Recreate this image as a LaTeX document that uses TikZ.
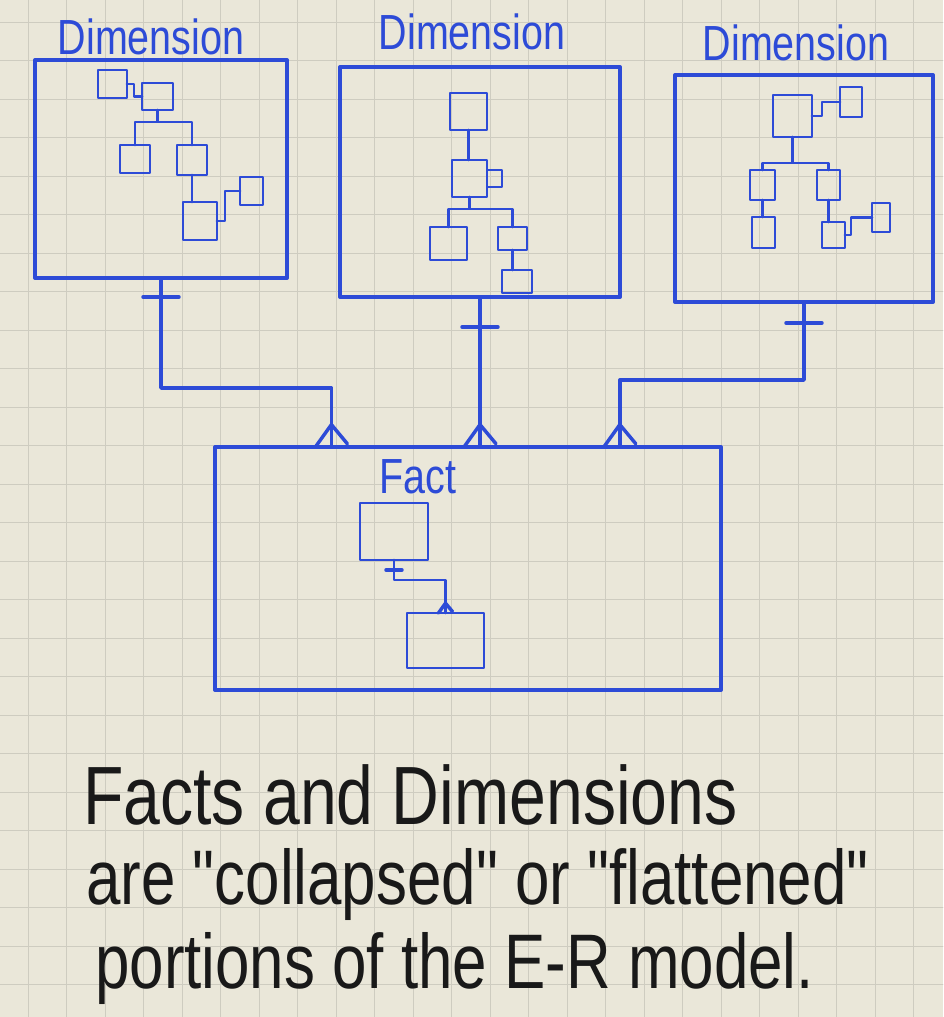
\documentclass[tikz,border=0pt]{standalone}
\usepackage{fontspec}
\usetikzlibrary{calc,positioning}
\newfontfamily\handfont[FakeStretch=0.8]{Liberation Sans}
\definecolor{marker}{RGB}{45,75,215}
\definecolor{ink}{RGB}{25,25,25}
\definecolor{paper}{RGB}{234,231,217}
\definecolor{gridc}{RGB}{206,204,192}

% ER end marks: one-tick across a connector, crow's foot where it meets a box
\newcommand{\onetick}[3]{\draw[erline] ($(#1)+(-#3,#2)$) -- ($(#1)+(#3,#2)$);}
\newcommand{\crowfoot}[2]{\draw[erline] ($(#1)+(0,-1.4*#2)$) -- ($(#1)+(-#2,0)$) ($(#1)+(0,-1.4*#2)$) -- ($(#1)+(#2,-0.2*#2)$);}

\begin{document}
\begin{tikzpicture}[x=0.75pt, y=-0.75pt, line cap=round, line join=round,
    panel/.style={draw=marker, line width=3pt, inner sep=0pt, outer sep=0pt},
    ebox/.style={draw=marker, line width=2.2pt, inner sep=0pt, outer sep=0pt},
    link/.style={draw=marker, line width=2.2pt},
    erline/.style={draw=marker, line width=2.6pt},
    dimtitle/.style={text=marker, font=\handfont\fontsize{37}{40}\selectfont, inner sep=0pt, anchor=base},
    remark/.style={text=ink, font=\handfont\fontsize{58}{64}\selectfont, inner sep=0pt, anchor=base west}]
  \useasboundingbox (0,0) rectangle (943,1017);
  \fill[paper] (0,0) rectangle (943,1017);
  \foreach \gx in {28,66.5,...,943} \draw[gridc, line width=0.6pt] (\gx,0) -- (\gx,1017);
  \foreach \gy in {22,60.5,...,1017} \draw[gridc, line width=0.6pt] (0,\gy) -- (943,\gy);

  % the four tables
  \node[panel, minimum width=189pt, minimum height=163.5pt] (dimA) at (161,169) {};
  \node[panel, minimum width=210pt, minimum height=172.5pt] (dimB) at (480,182) {};
  \node[panel, minimum width=193.5pt, minimum height=170.25pt] (dimC) at (804,188.5) {};
  \node[panel, minimum width=379.5pt, minimum height=182.25pt] (fact) at (468,568.5) {};

  \node[dimtitle] (dimAname) at (151,54) {Dimension};
  \node[dimtitle] (dimBname) at (472,49) {Dimension};
  \node[dimtitle] (dimCname) at (796,60) {Dimension};
  \node[dimtitle] (factname) at (418,493) {Fact};

  % left dimension
  \node[ebox, minimum width=21.75pt, minimum height=21pt] (a1) at (112.5,84) {};
  \node[ebox, minimum width=23.25pt, minimum height=20.25pt] (a2) at (157.5,96.5) {};
  \node[ebox, minimum width=22.5pt, minimum height=21pt] (a3) at (135,159) {};
  \node[ebox, minimum width=22.5pt, minimum height=22.5pt] (a4) at (192,160) {};
  \node[ebox, minimum width=25.5pt, minimum height=28.5pt] (a5) at (200,221) {};
  \node[ebox, minimum width=17.25pt, minimum height=21pt] (a6) at (251.5,191) {};
  \draw[link] (a1.east) -- ++(7,0) |- (a2.west);
  \draw[link] (a2.south) -- ++(0,12) coordinate (aFork) -| (a3.north);
  \draw[link] (aFork) -| (a4.north);
  \draw[link] (a4.south) -- (a4.south |- a5.north);
  \draw[link] (a5.east) -- ++(8,0) |- (a6.west);

  % middle dimension
  \node[ebox, minimum width=27.75pt, minimum height=27.75pt] (b1) at (468.5,111.5) {};
  \node[ebox, minimum width=26.25pt, minimum height=27.75pt] (b2) at (469.5,178.5) {};
  \node[ebox, minimum width=11.25pt, minimum height=12.75pt, right=0pt of b2] (b2x) {};
  \node[ebox, minimum width=27.75pt, minimum height=24.75pt] (b3) at (448.5,243.5) {};
  \node[ebox, minimum width=21.75pt, minimum height=17.25pt] (b4) at (512.5,238.5) {};
  \node[ebox, minimum width=22.5pt, minimum height=17.25pt] (b5) at (517,281.5) {};
  \draw[link] (b1.south) -- (b1.south |- b2.north);
  \draw[link] (b2.south) -- ++(0,12) coordinate (bFork) -| (b3.north);
  \draw[link] (bFork) -| (b4.north);
  \draw[link] (b4.south) -- (b4.south |- b5.north);

  % right dimension
  \node[ebox, minimum width=29.25pt, minimum height=31.5pt] (c1) at (792.5,116) {};
  \node[ebox, minimum width=16.5pt, minimum height=22.5pt] (c2) at (851,102) {};
  \node[ebox, minimum width=18.75pt, minimum height=22.5pt] (c3) at (762.5,185) {};
  \node[ebox, minimum width=17.25pt, minimum height=22.5pt] (c4) at (828.5,185) {};
  \node[ebox, minimum width=17.25pt, minimum height=23.25pt] (c5) at (763.5,232.5) {};
  \node[ebox, minimum width=17.25pt, minimum height=19.5pt] (c6) at (833.5,235) {};
  \node[ebox, minimum width=13.5pt, minimum height=21.75pt] (c7) at (881,217.5) {};
  \draw[link] (c1.east) -- ++(10,0) |- (c2.west);
  \draw[link] (c1.south) -- ++(0,26) coordinate (cFork) -| (c3.north);
  \draw[link] (cFork) -| (c4.north);
  \draw[link] (c3.south) -- (c3.south |- c5.north);
  \draw[link] (c4.south) -- (c4.south |- c6.north);
  \draw[link] (c6.east) -- ++(6,0) |- (c7.west);

  % fact
  \node[ebox, minimum width=51pt, minimum height=42.75pt] (f1) at (394,531.5) {};
  \node[ebox, minimum width=57.75pt, minimum height=41.25pt] (f2) at (445.5,640.5) {};
  \draw[link] (f1.south) -- ++(0,20) -| (f2.north);
  \onetick{f1.south}{10}{8}
  \crowfoot{f2.north}{7}

  % dimension -> fact
  \coordinate (inA) at ($(fact.north west)!0.23!(fact.north east)$);
  \coordinate (inB) at (dimB.south |- fact.north);
  \coordinate (inC) at ($(fact.north west)!0.80!(fact.north east)$);
  \draw[erline] (dimA.south) -- ++(0,110) -| (inA);
  \draw[erline] (dimB.south) -- (inB);
  \draw[erline] (dimC.south) -- ++(0,78) -| (inC);
  \onetick{dimA.south}{19}{18}
  \onetick{dimB.south}{30}{18}
  \onetick{dimC.south}{21}{18}
  \crowfoot{inA}{16}
  \crowfoot{inB}{16}
  \crowfoot{inC}{16}

  \node[remark, font=\handfont\fontsize{62}{68}\selectfont] (line1) at (83,824) {Facts and Dimensions};
  \node[remark] (line2) at (86,904) {are "collapsed" or "flattened"};
  \node[remark] (line3) at (95,988) {portions of the E-R model.};
\end{tikzpicture}
\end{document}
